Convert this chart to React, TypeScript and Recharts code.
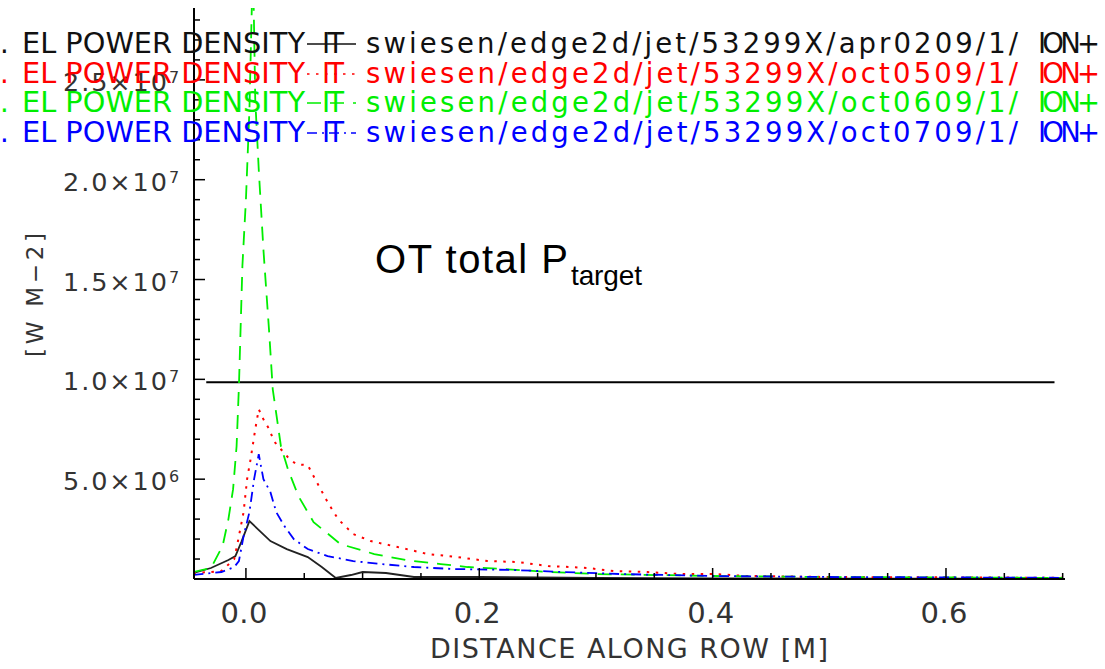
import { LineChart, Line, XAxis, YAxis } from 'recharts'

// values in units of 1e6 W m^-2
const blackX = [-0.045, -0.03, -0.015, -0.009, -0.004, 0.003, 0.012, 0.021, 0.035, 0.053, 0.065, 0.077, 0.09, 0.1, 0.12, 0.144, 0.2, 0.25, 0.3, 0.4, 0.5, 0.6, 0.7]
const blackY = [0.3, 0.55, 0.95, 1.15, 1.85, 2.9, 2.4, 1.9, 1.5, 1.1, 0.6, 0.05, 0.2, 0.35, 0.3, 0.1, 0.1, 0.08, 0.05, 0.03, 0.02, 0.02, 0.02]

const redX = [-0.045, -0.03, -0.021, -0.01, -0.007, -0.002, 0.001, 0.004, 0.008, 0.011, 0.015, 0.02, 0.024, 0.03, 0.036, 0.043, 0.053, 0.058, 0.064, 0.07, 0.079, 0.092, 0.107, 0.13, 0.156, 0.181, 0.207, 0.233, 0.259, 0.278, 0.293, 0.315, 0.344, 0.372, 0.4, 0.43, 0.5, 0.6, 0.7]
const redY = [0.3, 0.35, 0.4, 1.0, 1.85, 3.35, 5.0, 6.0, 7.5, 8.5, 8.0, 7.5, 6.9, 6.5, 6.1, 5.75, 5.7, 5.15, 4.5, 3.85, 3.0, 2.25, 1.9, 1.6, 1.25, 1.1, 0.9, 0.85, 0.65, 0.6, 0.55, 0.4, 0.35, 0.25, 0.25, 0.15, 0.1, 0.08, 0.06]

const greenX = [-0.045, -0.03, -0.02, -0.015, -0.011, -0.008, -0.006, -0.003, 0.0, 0.003, 0.006, 0.008, 0.011, 0.015, 0.02, 0.023, 0.03, 0.036, 0.045, 0.058, 0.081, 0.11, 0.14, 0.167, 0.19, 0.22, 0.26, 0.3, 0.4, 0.5, 0.6, 0.7]
const greenY = [0.35, 0.55, 1.65, 3.0, 4.5, 6.65, 9.65, 15.7, 19, 23.5, 31, 24, 20.5, 16.5, 12.3, 9.5, 6.65, 5.5, 4.15, 2.85, 1.75, 1.25, 0.92, 0.75, 0.6, 0.5, 0.35, 0.25, 0.15, 0.1, 0.08, 0.05]

const blueX = [-0.045, -0.021, -0.01, -0.006, -0.002, 0.003, 0.007, 0.011, 0.015, 0.021, 0.026, 0.033, 0.041, 0.053, 0.07, 0.092, 0.116, 0.144, 0.178, 0.23, 0.272, 0.32, 0.4, 0.5, 0.6, 0.7]
const blueY = [0.2, 0.35, 0.6, 0.9, 2.15, 3.35, 5.0, 6.25, 5.0, 4.35, 3.35, 2.65, 2.0, 1.5, 1.15, 0.9, 0.75, 0.6, 0.5, 0.45, 0.35, 0.25, 0.15, 0.1, 0.08, 0.06]

// OT total P_target level
const otLineX = [-0.034, 0.693]
const otLineY = 9.85

const xTicks = [0, 0.05, 0.1, 0.15, 0.2, 0.25, 0.3, 0.35, 0.4, 0.45, 0.5, 0.55, 0.6, 0.65, 0.7]
const xLabelValues = [0, 0.2, 0.4, 0.6]
const xLabels = ['0.0', '0.2', '0.4', '0.6']

const yTicks = Array.from({ length: 28 }, (_, i) => i + 1)
const yLabelValues = [5, 10, 15, 20, 25]
const yLabelMantissa = ['5.0', '1.0', '1.5', '2.0', '2.5']
const yLabelExp = ['6', '7', '7', '7', '7']

const legendFiles = ['apr0209', 'oct0509', 'oct0609', 'oct0709']
const legendColors = ['#111111', '#ff0000', '#00ee00', '#0000ff']
const legendDash = ['', '2.5 6.5', '14 9', '10 5 2 5']
const legendBase = [53, 83, 112, 142]

const FONT = "'DejaVu Sans', sans-serif"
const TXT = '#333'

const pts = (xs: number[], ys: number[]) => xs.map((x, i) => ({ x, y: ys[i] }))
const otData = otLineX.map((x) => ({ x, y: otLineY }))

const near = (a: number, b: number) => Math.abs(a - b) < 1e-6
const isXMajor = (v: number) => near(v / 0.2, Math.round(v / 0.2))
const isYMajor = (v: number) => near(v / 5, Math.round(v / 5))

const BottomTick = (p: any) => {
  const v = p.payload.value
  const i = xLabelValues.findIndex((l) => near(l, v))
  return (
    <g>
      <line x1={p.x} x2={p.x} y1={p.y} y2={p.y - (isXMajor(v) ? 11 : 6)} stroke="#000" strokeWidth={1.5} />
      {i >= 0 && (
        <text x={p.x - 2} y={p.y + 44} textAnchor="middle" fontFamily={FONT} fontSize={29} fill={TXT} textLength={47}>
          {xLabels[i]}
        </text>
      )}
    </g>
  )
}

const TopTick = (p: any) => {
  const v = p.payload.value
  return <line x1={p.x} x2={p.x} y1={p.y} y2={p.y + (isXMajor(v) ? 11 : 6)} stroke="#000" strokeWidth={1.5} />
}

const LeftTick = (p: any) => {
  const v = p.payload.value
  const i = yLabelValues.findIndex((l) => near(l, v))
  return (
    <g>
      <line x1={p.x} x2={p.x + (isYMajor(v) ? 11 : 6)} y1={p.y} y2={p.y} stroke="#000" strokeWidth={1.5} />
      {i >= 0 && (
        <g fontFamily={FONT} fill={TXT}>
          <text x={p.x - 131} y={p.y + 11} fontSize={25.5} textLength={104}>{yLabelMantissa[i]}×10</text>
          <text x={p.x - 25} y={p.y + 3} fontSize={16}>{yLabelExp[i]}</text>
        </g>
      )}
    </g>
  )
}

const RightTick = (p: any) => {
  const v = p.payload.value
  return <line x1={p.x} x2={p.x - (isYMajor(v) ? 11 : 6)} y1={p.y} y2={p.y} stroke="#000" strokeWidth={1.5} />
}

const axisLine = { stroke: '#000', strokeWidth: 2 }

export default function App() {
  return (
    <div style={{ position: 'relative', width: 1105, height: 669, background: '#fff' }}>
      <style>{'body{margin:0}'}</style>
      <LineChart width={1105} height={669} margin={{ top: 8, right: 40, bottom: 0, left: 0 }}>
        <XAxis
          dataKey="x"
          type="number"
          domain={[-0.0445, 0.702]}
          allowDataOverflow
          ticks={xTicks}
          interval={0}
          height={90}
          tickSize={0}
          tickMargin={0}
          axisLine={axisLine}
          tickLine={false}
          tick={(p: any) => <BottomTick {...p} />}
        />
        <XAxis
          xAxisId="top"
          orientation="top"
          dataKey="x"
          type="number"
          domain={[-0.0445, 0.702]}
          allowDataOverflow
          ticks={xTicks}
          interval={0}
          height={0}
          tickSize={0}
          tickMargin={0}
          axisLine={axisLine}
          tickLine={false}
          tick={(p: any) => <TopTick {...p} />}
        />
        <YAxis
          type="number"
          domain={[0, 28.6]}
          allowDataOverflow
          ticks={yTicks}
          interval={0}
          width={194}
          tickSize={0}
          tickMargin={0}
          axisLine={axisLine}
          tickLine={false}
          tick={(p: any) => <LeftTick {...p} />}
        />
        <YAxis
          yAxisId="right"
          orientation="right"
          type="number"
          domain={[0, 28.6]}
          allowDataOverflow
          ticks={yTicks}
          interval={0}
          width={0}
          tickSize={0}
          tickMargin={0}
          axisLine={axisLine}
          tickLine={false}
          tick={(p: any) => <RightTick {...p} />}
        />
        <Line data={otData} dataKey="y" type="linear" stroke="#000" strokeWidth={2} dot={false} isAnimationActive={false} />
        <Line data={pts(blackX, blackY)} dataKey="y" type="linear" stroke="#222" strokeWidth={1.8} dot={false} isAnimationActive={false} />
        <Line data={pts(redX, redY)} dataKey="y" type="linear" stroke="#ff0000" strokeWidth={2} strokeDasharray="2.5 6.5" dot={false} isAnimationActive={false} />
        <Line data={pts(greenX, greenY)} dataKey="y" type="linear" stroke="#00ee00" strokeWidth={1.8} strokeDasharray="14 9" dot={false} isAnimationActive={false} />
        <Line data={pts(blueX, blueY)} dataKey="y" type="linear" stroke="#0000ff" strokeWidth={1.8} strokeDasharray="10 5 2 5" dot={false} isAnimationActive={false} />
      </LineChart>
      <svg width={1105} height={669} style={{ position: 'absolute', left: 0, top: 0, pointerEvents: 'none' }}>
        {legendFiles.map((f, i) => {
          const b = legendBase[i]
          const c = legendColors[i]
          return (
            <g key={f} fontFamily={FONT} fontSize={27.5} fill={c}>
              <text x={0} y={b}>.</text>
              <text x={22} y={b} textLength={283} lengthAdjust="spacingAndGlyphs">EL POWER DENSITY</text>
              <text x={322} y={b} textLength={22}>IT</text>
              <line x1={307} x2={356} y1={b - 9} y2={b - 9} stroke={c} strokeWidth={1.5} strokeDasharray={legendDash[i] || undefined} />
              <text x={366} y={b} textLength={652}>{`swiesen/edge2d/jet/53299X/${f}/1/`}</text>
              <text x={1038} y={b} textLength={62}>ION+</text>
            </g>
          )
        })}
        <text x={33} y={305} transform="rotate(-90, 33, 295)" textAnchor="middle" fontFamily={FONT} fontSize={23} fill={TXT} textLength={124}>
          [W M−2]
        </text>
        <text x={629} y={658} textAnchor="middle" fontFamily={FONT} fontSize={27} fill={TXT} textLength={398}>
          DISTANCE ALONG ROW [M]
        </text>
        <g fontFamily="'Liberation Sans', Arial, sans-serif" fill="#000">
          <text x={375} y={273} fontSize={40} textLength={193}>OT total P</text>
          <text x={571} y={285} fontSize={28} textLength={71}>target</text>
        </g>
      </svg>
    </div>
  )
}
